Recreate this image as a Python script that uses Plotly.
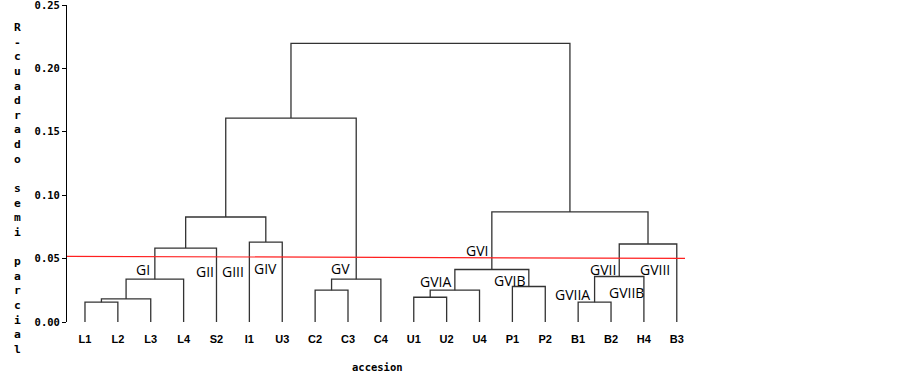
import plotly.graph_objects as go

# ---- data ----
leaves = ["L1", "L2", "L3", "L4", "S2", "I1", "U3", "C2", "C3", "C4",
          "U1", "U2", "U4", "P1", "P2", "B1", "B2", "H4", "B3"]
# merges: (left node, right node, height); leaves are 0..18, new nodes 19+
merge_left = [0, 19, 20, 21, 5, 22, 7, 25, 24, 10, 28, 13, 29, 15, 32, 33, 31, 27]
merge_right = [1, 2, 3, 4, 6, 23, 8, 9, 26, 11, 12, 14, 30, 16, 17, 18, 34, 35]
merge_height = [0.0156, 0.0182, 0.0338, 0.0583, 0.0630, 0.0828, 0.0251, 0.0338,
                0.1608, 0.0195, 0.0251, 0.0280, 0.0414, 0.0156, 0.0359, 0.0615,
                0.0868, 0.2197]
group_labels = ["GI", "GII", "GIII", "GIV", "GV", "GVI", "GVIA", "GVIB",
                "GVII", "GVIIA", "GVIIB", "GVIII"]
group_x = [2.77, 4.65, 5.50, 6.48, 8.76, 12.91, 11.65, 13.90, 16.75, 15.84, 17.48, 18.33]
group_y = [0.0411, 0.0398, 0.0395, 0.0425, 0.0419, 0.0566, 0.0319, 0.0326,
           0.0418, 0.0214, 0.0235, 0.0418]
cut_start = 0.0518
cut_end = 0.0501
y_ticks = [0.00, 0.05, 0.10, 0.15, 0.20, 0.25]

# ---- build dendrogram coordinates ----
pos = {i: float(i + 1) for i in range(len(leaves))}
hgt = {i: 0.0 for i in range(len(leaves))}
xs, ys = [], []
n = len(leaves)
for k, (a, b, h) in enumerate(zip(merge_left, merge_right, merge_height)):
    xa, xb = pos[a], pos[b]
    xs += [xa, xa, xb, xb, None]
    ys += [hgt[a], h, h, hgt[b], None]
    pos[n + k] = (xa + xb) / 2
    hgt[n + k] = h

x_min, x_max = 0.453, 19.25

fig = go.Figure()
fig.add_trace(go.Scatter(x=xs, y=ys, mode="lines",
                         line=dict(color="#333333", width=1.3),
                         hoverinfo="skip", showlegend=False, cliponaxis=False))
fig.add_trace(go.Scatter(x=[x_min, x_max], y=[cut_start, cut_end], mode="lines",
                         line=dict(color="#ff2020", width=1.2),
                         hoverinfo="skip", showlegend=False))

for t, gx, gy in zip(group_labels, group_x, group_y):
    fig.add_annotation(x=gx, y=gy, text=t, showarrow=False,
                       xanchor="center", yanchor="middle",
                       font=dict(family="Open Sans", size=14, color="black"))

ytitle = "R-cuadrado semi parcial"
ytitle_html = "<br>".join(c if c != " " else "\u00a0" for c in ytitle)
fig.add_annotation(xref="paper", yref="paper", x=-0.0793, y=0.4227,
                   text=ytitle_html, showarrow=False, xanchor="center", yanchor="middle",
                   font=dict(family="DejaVu Sans Mono", size=11.25, color="black", weight="bold"))
fig.add_annotation(xref="paper", yref="paper", x=0.503, y=-0.142,
                   text="accesion", showarrow=False, xanchor="center", yanchor="middle",
                   font=dict(family="DejaVu Sans Mono", size=10.5, color="black", weight="bold"))

fig.update_layout(
    width=903, height=377,
    margin=dict(l=67, r=218, t=5, b=55, autoexpand=False),
    plot_bgcolor="white", paper_bgcolor="white",
    xaxis=dict(range=[x_min, x_max], showgrid=False, zeroline=False, showline=False,
               automargin=False,
               tickmode="array", tickvals=list(range(1, n + 1)), ticktext=leaves,
               ticks="", ticklabelstandoff=9,
               tickfont=dict(family="Liberation Sans", size=11, color="black",
                             weight="bold")),
    yaxis=dict(range=[0, 0.25], showgrid=False, zeroline=False, showline=True,
               automargin=False, ticklabeloverflow="allow",
               linecolor="black", linewidth=1, ticks="outside", ticklen=4,
               tickcolor="black", tickvals=y_ticks, tickformat=".2f",
               tickfont=dict(family="DejaVu Sans Mono", size=10.5, color="black",
                             weight="bold")),
)

fig.write_html("out.html", config={"displayModeBar": False},
               post_script="document.body.style.margin='0px';document.body.style.overflow='hidden';")
